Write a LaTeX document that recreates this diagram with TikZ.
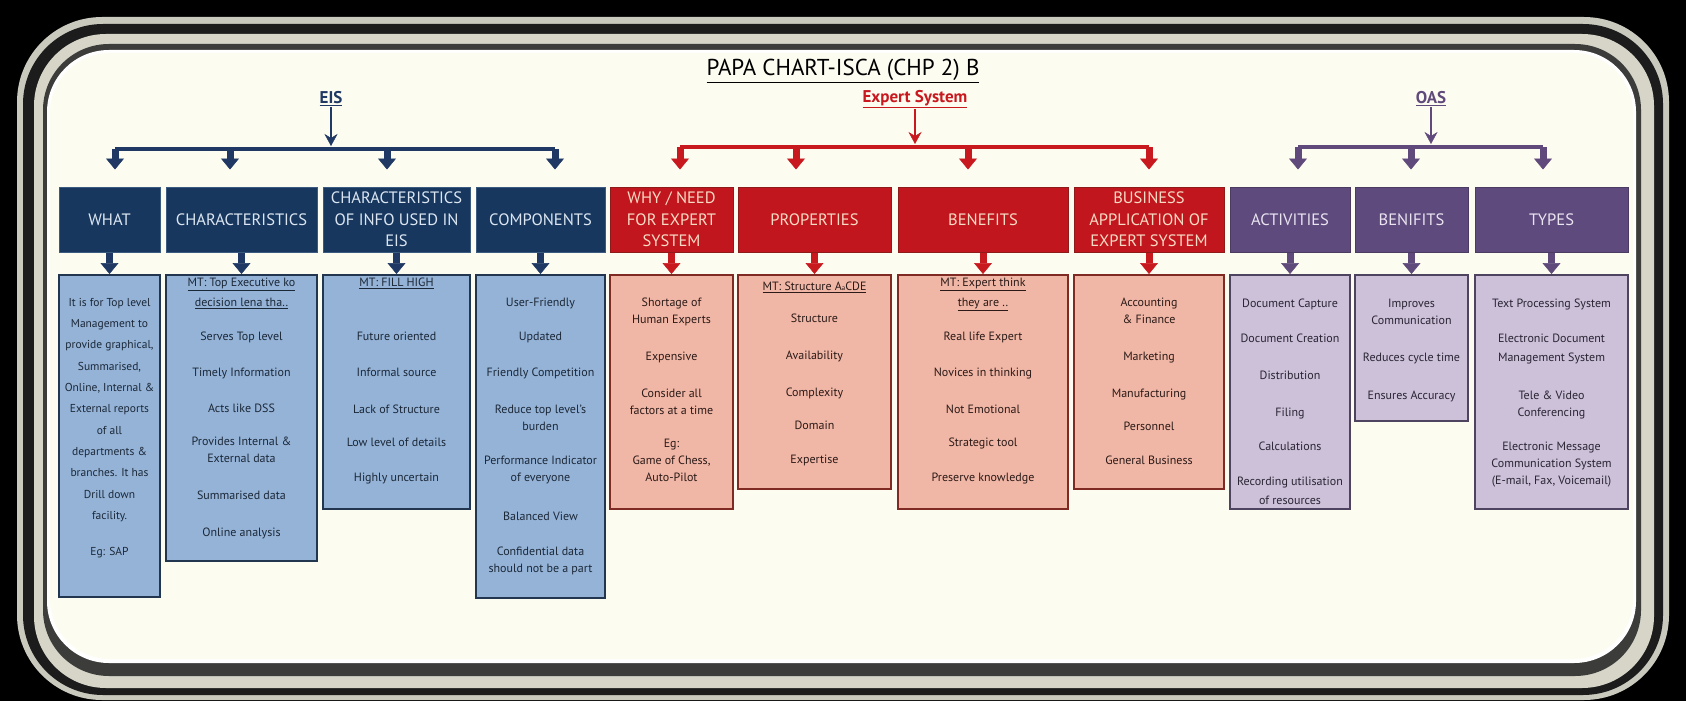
\documentclass[tikz,border=0pt]{standalone}
\usepackage{fontspec}
\setmainfont{PT Sans}
\usetikzlibrary{arrows.meta}

\definecolor{cream}{HTML}{FDFCF0}
\definecolor{ringlight}{HTML}{C9C9BE}
\definecolor{ringpale}{HTML}{D6D5C8}
\definecolor{ringdark}{HTML}{1C1C1C}
\definecolor{ringgray}{HTML}{3C3D3A}
\definecolor{navy}{HTML}{17375E}
\definecolor{navyedge}{HTML}{3A5A80}
\definecolor{navytext}{HTML}{DCE6F2}
\definecolor{navyarrow}{HTML}{1F3864}
\definecolor{bluefill}{HTML}{95B3D7}
\definecolor{blueedge}{HTML}{22364F}
\definecolor{blueink}{HTML}{1B2838}
\definecolor{redbox}{HTML}{C1161D}
\definecolor{rededge}{HTML}{8E1A1A}
\definecolor{redtext}{HTML}{F8DBC4}
\definecolor{redarrow}{HTML}{C8191F}
\definecolor{salmon}{HTML}{F0B6A6}
\definecolor{salmonedge}{HTML}{7F2A23}
\definecolor{salmonink}{HTML}{2B1A17}
\definecolor{purple}{HTML}{5F4A7E}
\definecolor{purpleedge}{HTML}{4B3B63}
\definecolor{purpletext}{HTML}{E9E4F0}
\definecolor{purplearrow}{HTML}{604A7B}
\definecolor{lavender}{HTML}{CCC1D9}
\definecolor{lavenderedge}{HTML}{4F4460}
\definecolor{lavenderink}{HTML}{2A2433}

\tikzset{
  headbox/.style={draw, line width=1pt, minimum height=65pt, align=center, inner sep=1pt,
    font=\fontsize{16.5}{21.5}\selectfont},
  navyhead/.style={headbox, fill=navy, draw=navyedge, text=navytext},
  redhead/.style={headbox, fill=redbox, draw=rededge, text=redtext},
  purplehead/.style={headbox, fill=purple, draw=purpleedge, text=purpletext},
  listbox/.style={draw, line width=1.5pt, anchor=north},
  bluelist/.style={listbox, fill=bluefill, draw=blueedge},
  salmonlist/.style={listbox, fill=salmon, draw=salmonedge},
  lavenderlist/.style={listbox, fill=lavender, draw=lavenderedge},
  listtext/.style={anchor=north, align=center, inner sep=0pt, font=\fontsize{12}{17}\selectfont},
  lead/.style={line width=1.8pt, shorten >=3pt,
    -{Stealth[length=12pt,width=13pt,inset=4pt,line width=0.5pt]}},
  bar/.style={line width=3.5pt},
  drop/.style={line width=7pt, -{Triangle[length=11pt,width=18pt,line width=0.5pt]}},
  grouplabel/.style={inner sep=1pt, font=\fontsize{17}{19}\selectfont\bfseries}
}

\begin{document}
\begin{tikzpicture}[x=1pt,y=-1pt]
\useasboundingbox (0,0) rectangle (1686,701);

% frame
\fill[black] (0,0) rectangle (1686,701);
\fill[ringlight, rounded corners=85pt] (17,17) rectangle (1669,700);
\fill[ringdark, rounded corners=80pt] (23,24) rectangle (1663,695);
\fill[ringpale, rounded corners=72pt] (34,34) rectangle (1654,688);
\fill[ringgray, rounded corners=66pt] (43,44) rectangle (1641,676);
\fill[white, rounded corners=62pt] (47,50) rectangle (1636,663);
\fill[cream, rounded corners=60pt] (50,53) rectangle (1633,659);

% title and group labels
\node[font=\fontsize{23}{25}\selectfont] (title) at (843,71) {\underline{PAPA CHART-ISCA (CHP 2) B}};
\node[grouplabel, text=navyarrow] (eis) at (331,99) {\underline{EIS}};
\node[grouplabel, text=redarrow] (expert) at (915,99) {\underline{Expert System}};
\node[grouplabel, text=purplearrow] (oas) at (1431,99) {\underline{OAS}};

% top boxes
\node[navyhead, minimum width=101pt] (what) at (109.5,219.5) {WHAT};
\node[navyhead, minimum width=151pt] (char) at (241.5,219.5) {CHARACTERISTICS};
\node[navyhead, minimum width=147pt] (info) at (396.5,219.5) {CHARACTERISTICS\\OF INFO USED IN\\EIS};
\node[navyhead, minimum width=129pt] (comp) at (540.5,219.5) {COMPONENTS};
\node[redhead, minimum width=123pt] (why) at (671.5,219.5) {WHY / NEED\\FOR EXPERT\\SYSTEM};
\node[redhead, minimum width=153pt] (prop) at (814.5,219.5) {PROPERTIES};
\node[redhead, minimum width=170pt] (bene) at (983,219.5) {BENEFITS};
\node[redhead, minimum width=150pt] (busi) at (1149,219.5) {BUSINESS\\APPLICATION OF\\EXPERT SYSTEM};
\node[purplehead, minimum width=120pt] (acti) at (1290,219.5) {ACTIVITIES};
\node[purplehead, minimum width=113pt] (benf) at (1411.5,219.5) {BENIFITS};
\node[purplehead, minimum width=153pt] (type) at (1551.5,219.5) {TYPES};

% list boxes
\node[bluelist, minimum width=101pt, minimum height=322pt] (whatlist) at (109.5,274) {};
\node[bluelist, minimum width=151pt, minimum height=286pt] (charlist) at (241.5,274) {};
\node[bluelist, minimum width=147pt, minimum height=234pt] (infolist) at (396.5,274) {};
\node[bluelist, minimum width=129pt, minimum height=323pt] (complist) at (540.5,274) {};
\node[salmonlist, minimum width=123pt, minimum height=234pt] (whylist) at (671.5,274) {};
\node[salmonlist, minimum width=153pt, minimum height=214pt] (proplist) at (814.5,274) {};
\node[salmonlist, minimum width=170pt, minimum height=234pt] (benelist) at (983,274) {};
\node[salmonlist, minimum width=150pt, minimum height=214pt] (busilist) at (1149,274) {};
\node[lavenderlist, minimum width=120pt, minimum height=234pt] (actilist) at (1290,274) {};
\node[lavenderlist, minimum width=113pt, minimum height=146pt] (benflist) at (1411.5,274) {};
\node[lavenderlist, minimum width=153pt, minimum height=234pt] (typelist) at (1551.5,274) {};

% list texts
\node[listtext, text=blueink, font=\fontsize{11.5}{21.3}\selectfont] (whattext) at ([yshift=-24pt]whatlist.north)
  {It is for Top level\\Management to\\provide graphical,\\Summarised,\\Online, Internal \&\\External reports\\of all\\departments \&\\branches. It has\\Drill down\\facility.\\[14.7pt]Eg: SAP};
\node[listtext, text=blueink] (chartext) at ([yshift=-4pt]charlist.north)
  {\underline{MT: Top Executive ko}\\[3pt]\underline{decision lena tha..}\\[17pt]Serves Top level\\[19pt]Timely Information\\[19pt]Acts like DSS\\[16pt]Provides Internal \&\\External data\\[20pt]Summarised data\\[20pt]Online analysis};
\node[listtext, text=blueink] (infotext) at ([yshift=-4pt]infolist.north)
  {\underline{MT: FILL HIGH}\\[37pt]Future oriented\\[19pt]Informal source\\[20pt]Lack of Structure\\[16pt]Low level of details\\[18pt]Highly uncertain};
\node[listtext, text=blueink] (comptext) at ([yshift=-24pt]complist.north)
  {User-Friendly\\[17pt]Updated\\[19pt]Friendly Competition\\[20pt]Reduce top level's\\burden\\[17pt]Performance Indicator\\of everyone\\[22pt]Balanced View\\[18pt]Confidential data\\should not be a part};
\node[listtext, text=salmonink] (whytext) at ([yshift=-24pt]whylist.north)
  {Shortage of\\Human Experts\\[20pt]Expensive\\[20pt]Consider all\\factors at a time\\[16pt]Eg:\\Game of Chess,\\Auto-Pilot};
\node[listtext, text=salmonink] (proptext) at ([yshift=-8pt]proplist.north)
  {\underline{MT: Structure A{\scriptsize a}CDE}\\[15pt]Structure\\[20pt]Availability\\[20pt]Complexity\\[16pt]Domain\\[17pt]Expertise};
\node[listtext, text=salmonink] (benetext) at ([yshift=-4pt]benelist.north)
  {\underline{MT: Expert think}\\[3pt]\underline{they are ..}\\[17pt]Real life Expert\\[19pt]Novices in thinking\\[20pt]Not Emotional\\[16pt]Strategic tool\\[18pt]Preserve knowledge};
\node[listtext, text=salmonink] (busitext) at ([yshift=-24pt]busilist.north)
  {Accounting\\\& Finance\\[20pt]Marketing\\[20pt]Manufacturing\\[16pt]Personnel\\[17pt]General Business};
\node[listtext, text=lavenderink] (actitext) at ([yshift=-25pt]actilist.north)
  {Document Capture\\[18pt]Document Creation\\[20pt]Distribution\\[20pt]Filing\\[17pt]Calculations\\[18pt]Recording utilisation\\[2pt]of resources};
\node[listtext, text=lavenderink] (benftext) at ([yshift=-25pt]benflist.north)
  {Improves\\Communication\\[20pt]Reduces cycle time\\[21pt]Ensures Accuracy};
\node[listtext, text=lavenderink] (typetext) at ([yshift=-25pt]typelist.north)
  {Text Processing System\\[18pt]Electronic Document\\[2pt]Management System\\[21pt]Tele \& Video\\Conferencing\\[17pt]Electronic Message\\Communication System\\(E-mail, Fax, Voicemail)};

% bar points
\coordinate (e1) at (115,149);
\coordinate (e2) at (230,149);
\coordinate (e3) at (387,149);
\coordinate (e4) at (555,149);
\coordinate (x1) at (680,147);
\coordinate (x2) at (796,147);
\coordinate (x3) at (968,147);
\coordinate (x4) at (1149,147);
\coordinate (o1) at (1298,147);
\coordinate (o2) at (1411,147);
\coordinate (o3) at (1543,147);

% EIS branch
\draw[lead, navyarrow] (eis) -- (eis |- e1);
\draw[bar, navyarrow] (e1) -- (e4);
\draw[drop, navyarrow, shorten >=17pt] (e1) -- (e1 |- what.north);
\draw[drop, navyarrow, shorten >=17pt] (e2) -- (e2 |- char.north);
\draw[drop, navyarrow, shorten >=17pt] (e3) -- (e3 |- info.north);
\draw[drop, navyarrow, shorten >=17pt] (e4) -- (e4 |- comp.north);

% expert system branch
\draw[lead, redarrow] (expert) -- (expert |- x1);
\draw[bar, redarrow] (x1) -- (x4);
\draw[drop, redarrow, shorten >=17pt] (x1) -- (x1 |- why.north);
\draw[drop, redarrow, shorten >=17pt] (x2) -- (x2 |- prop.north);
\draw[drop, redarrow, shorten >=17pt] (x3) -- (x3 |- bene.north);
\draw[drop, redarrow, shorten >=17pt] (x4) -- (x4 |- busi.north);

% OAS branch
\draw[lead, purplearrow] (oas) -- (oas |- o1);
\draw[bar, purplearrow] (o1) -- (o3);
\draw[drop, purplearrow, shorten >=17pt] (o1) -- (o1 |- acti.north);
\draw[drop, purplearrow, shorten >=17pt] (o2) -- (o2 |- benf.north);
\draw[drop, purplearrow, shorten >=17pt] (o3) -- (o3 |- type.north);

% box to list
\draw[drop, navyarrow] (what) -- (whatlist);
\draw[drop, navyarrow] (char) -- (charlist);
\draw[drop, navyarrow] (info) -- (infolist);
\draw[drop, navyarrow] (comp) -- (complist);
\draw[drop, redarrow] (why) -- (whylist);
\draw[drop, redarrow] (prop) -- (proplist);
\draw[drop, redarrow] (bene) -- (benelist);
\draw[drop, redarrow] (busi) -- (busilist);
\draw[drop, purplearrow] (acti) -- (actilist);
\draw[drop, purplearrow] (benf) -- (benflist);
\draw[drop, purplearrow] (type) -- (typelist);

\end{tikzpicture}
\end{document}
